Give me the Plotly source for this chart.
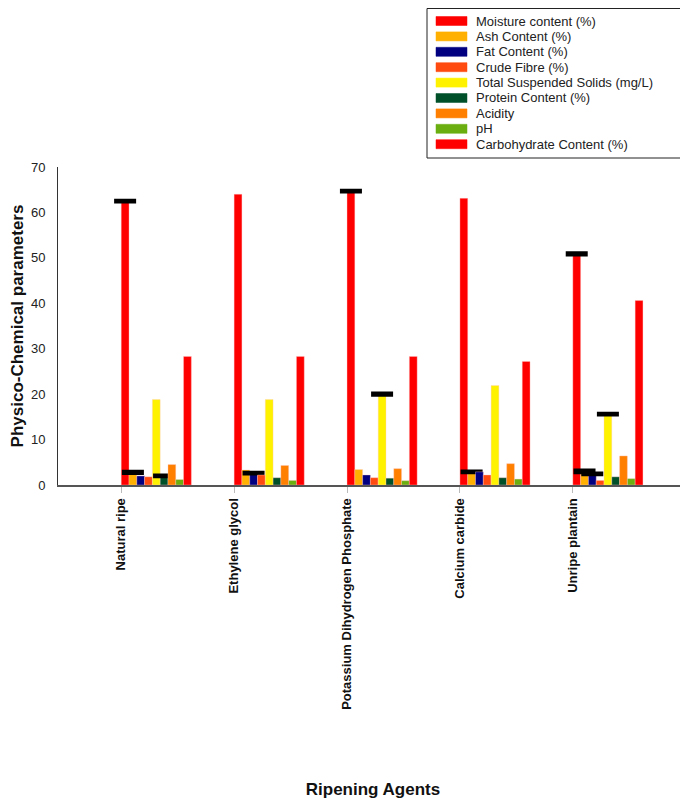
import numpy as np
import plotly.graph_objects as go

categories = ["Natural ripe", "Ethylene glycol", "Potassium Dihydrogen Phosphate",
              "Calcium carbide", "Unripe plantain"]

series_names = ["Moisture content (%)", "Ash Content (%)", "Fat Content (%)", "Crude Fibre (%)",
                "Total Suspended Solids (mg/L)", "Protein Content (%)", "Acidity", "pH",
                "Carbohydrate Content (%)"]

moisture = [62.5, 64.0, 64.7, 63.1, 50.9]
ash = [2.8, 3.3, 3.4, 2.9, 3.0]
fat = [2.0, 2.6, 2.2, 2.9, 2.45]
crude_fibre = [1.8, 2.2, 1.6, 2.2, 1.0]
tss = [18.8, 18.8, 20.0, 21.9, 15.6]
protein = [2.0, 1.6, 1.5, 1.6, 1.8]
acidity = [4.5, 4.3, 3.6, 4.7, 6.4]
ph = [1.2, 1.0, 0.95, 1.3, 1.4]
carbohydrate = [28.3, 28.3, 28.3, 27.2, 40.6]

nan = np.nan
moisture_err = [0.2, nan, 0.2, nan, 0.25]
ash_err = [0.25, nan, nan, 0.2, 0.3]
fat_err = [nan, 0.2, nan, nan, 0.2]
tss_err = [nan, nan, 0.25, nan, 0.2]
protein_err = [0.2, nan, nan, nan, nan]
none_err = [nan, nan, nan, nan, nan]

series_values = [moisture, ash, fat, crude_fibre, tss, protein, acidity, ph, carbohydrate]
series_errors = [moisture_err, ash_err, fat_err, none_err, tss_err, protein_err,
                 none_err, none_err, none_err]
colors = ["#FF0000", "#FFB000", "#000080", "#FF4A10", "#FFF200", "#00502A",
          "#FF8000", "#6AAE10", "#FF0000"]

bar_w = 0.069

# figure geometry (px) used to place the hand-built legend box
FIG_W, FIG_H = 680, 792
M_L, M_R, M_T, M_B = 50, 0, 159, 315
PLOT_W = FIG_W - M_L - M_R
PLOT_H = FIG_H - M_T - M_B


def px_x(px):
    return (px - M_L) / PLOT_W


def px_y(py):
    return (FIG_H - M_B - py) / PLOT_H


fig = go.Figure()
for j, (name, vals, errs, col) in enumerate(zip(series_names, series_values, series_errors, colors)):
    fig.add_trace(go.Bar(
        x=categories, y=vals, name=name, showlegend=False,
        width=bar_w, offset=j * bar_w,
        marker=dict(color=col, line=dict(color="rgba(255,200,200,0.6)", width=0.6)),
        error_y=dict(type="data", array=np.array(errs, dtype=float), symmetric=True,
                     color="black", thickness=3, width=11),
    ))

# legend box
shapes = [dict(type="rect", xref="paper", yref="paper",
               x0=px_x(419), x1=px_x(679), y0=px_y(0.5), y1=px_y(150),
               line=dict(color="#222", width=1), fillcolor="white", layer="above")]
annotations = []
for i, (name, col) in enumerate(zip(series_names, colors)):
    cy = 13 + 15.4 * i
    shapes.append(dict(type="rect", xref="paper", yref="paper",
                       x0=px_x(428), x1=px_x(459), y0=px_y(cy - 4.5), y1=px_y(cy + 4.5),
                       line=dict(color=col, width=0.5), fillcolor=col, layer="above"))
    annotations.append(dict(xref="paper", yref="paper", x=px_x(466), y=px_y(cy),
                            xanchor="left", yanchor="middle", showarrow=False,
                            text=name, font=dict(size=13, color="#222")))

fig.update_layout(
    width=FIG_W, height=FIG_H,
    barmode="overlay",
    plot_bgcolor="white", paper_bgcolor="white",
    margin=dict(l=M_L, r=M_R, t=M_T, b=M_B, autoexpand=False),
    font=dict(family="Liberation Sans, Arial, sans-serif", color="#222"),
    showlegend=False,
    shapes=shapes,
    annotations=annotations,
    xaxis=dict(
        type="category", range=[-0.56, 5.02],
        showline=True, linecolor="#555", linewidth=2,
        ticks="outside", ticklen=6, tickcolor="#bbb", tickwidth=1,
        tickangle=-90, tickfont=dict(size=13, color="#111", weight="bold"),
        showgrid=False, zeroline=False,
        title=dict(text="Ripening Agents", font=dict(size=17, color="#111", weight="bold"),
                   standoff=74),
    ),
    yaxis=dict(
        range=[0, 70], tickvals=[0, 10, 20, 30, 40, 50, 60, 70],
        showline=True, linecolor="#333", linewidth=1,
        ticks="", showgrid=False, zeroline=False, ticklabelstandoff=9,
        tickfont=dict(size=13, color="#222"),
        title=dict(text="Physico-Chemical parameters",
                   font=dict(size=17, color="#111", weight="bold"), standoff=16),
    ),
)

fig.write_html("out.html")
